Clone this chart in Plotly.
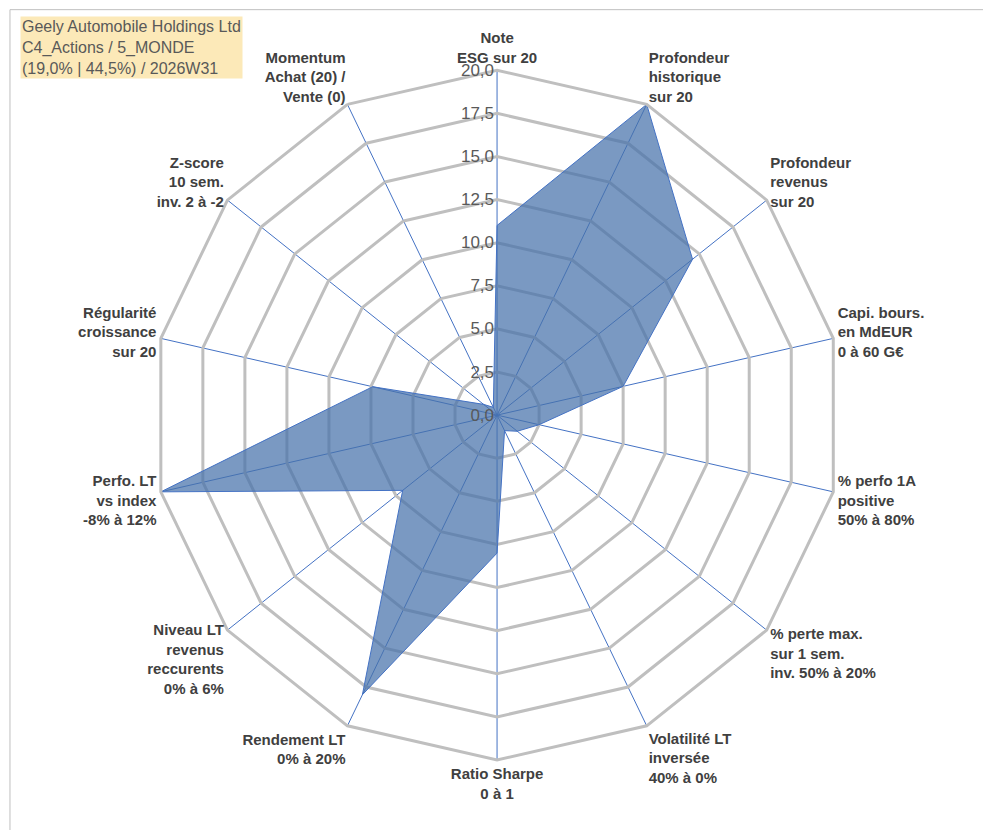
import plotly.graph_objects as go

categories = [
    "<b>Note<br>ESG sur 20</b>",
    "<b>Profondeur<br>historique<br>sur 20</b>",
    "<b>Profondeur<br>revenus<br>sur 20</b>",
    "<b>Capi. bours.<br>en MdEUR<br>0 à 60 G€</b>",
    "<b>% perfo 1A<br>positive<br>50% à 80%</b>",
    "<b>% perte max.<br>sur 1 sem.<br>inv. 50% à 20%</b>",
    "<b>Volatilité LT<br>inversée<br>40% à 0%</b>",
    "<b>Ratio Sharpe<br>0 à 1</b>",
    "<b>Rendement LT<br>0% à 20%</b>",
    "<b>Niveau LT<br>revenus<br>reccurents<br>0% à 6%</b>",
    "<b>Perfo. LT<br>vs index<br>-8% à 12%</b>",
    "<b>Régularité<br>croissance<br>sur 20</b>",
    "<b>Z-score<br>10 sem.<br>inv. 2 à -2</b>",
    "<b>Momentum<br>Achat (20) /<br>Vente (0)</b>",
]
values = [11, 20, 14.5, 7.5, 2.5, 1.5, 1, 8, 18, 7, 20, 7.4, 1, 0.5]
tick_vals = [0, 2.5, 5, 7.5, 10, 12.5, 15, 17.5, 20]
tick_text = ["0,0", "2,5", "5,0", "7,5", "10,0", "12,5", "15,0", "17,5", "20,0"]

fig = go.Figure()
fig.add_trace(go.Scatterpolar(
    r=values + values[:1], theta=categories + categories[:1],
    fill="toself", fillcolor="rgba(70,114,170,0.72)",
    line=dict(color="#4472C4", width=1), mode="lines",
))
fig.update_layout(
    width=991, height=830,
    paper_bgcolor="white", showlegend=False,
    font=dict(family="Liberation Sans, Arial", size=15, color="#404040"),
    margin=dict(l=0, r=0, t=0, b=0),
    polar=dict(
        domain=dict(x=[0.145, 0.842], y=[0.094, 0.925]),
        gridshape="linear", bgcolor="white",
        radialaxis=dict(range=[0, 20], tickvals=tick_vals, ticktext=tick_text,
                        angle=90, tickangle=90, side="counterclockwise",
                        showline=False, ticks="",
                        gridcolor="#BFBFBF", gridwidth=3,
                        tickfont=dict(size=17, color="#595959")),
        angularaxis=dict(direction="clockwise", rotation=90,
                         gridcolor="#4472C4", gridwidth=1,
                         linecolor="#BFBFBF", linewidth=3,
                         tickfont=dict(size=15, color="#404040")),
    ),
    shapes=[dict(type="rect", xref="paper", yref="paper", x0=0.002, y0=0.002,
                 x1=0.998, y1=0.998, line=dict(color="#BFBFBF", width=1))],
    annotations=[dict(
        text="Geely Automobile Holdings Ltd<br>C4_Actions / 5_MONDE<br>(19,0% | 44,5%) / 2026W31",
        xref="paper", yref="paper", x=0.012, y=0.99, xanchor="left", yanchor="top",
        showarrow=False, align="left", bgcolor="#FCE9B8",
        font=dict(size=16, color="#595959"),
    )],
)
fig.write_html("out.html")
